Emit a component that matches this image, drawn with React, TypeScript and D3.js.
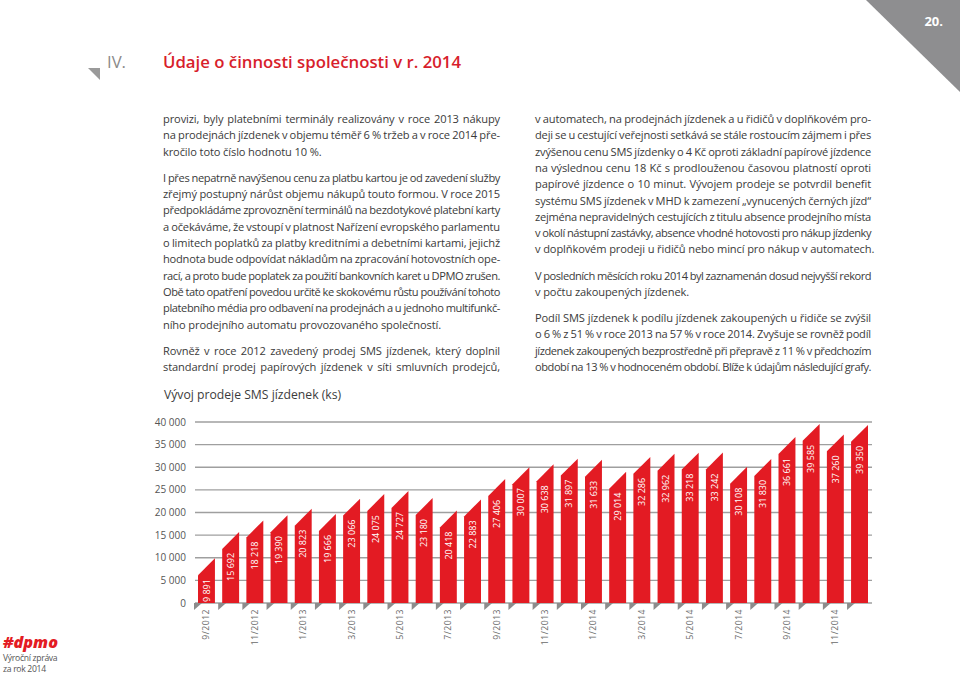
import React, { useEffect, useRef } from "react";
import * as d3 from "d3";

const months = [
  "9/2012", "10/2012", "11/2012", "12/2012",
  "1/2013", "2/2013", "3/2013", "4/2013", "5/2013", "6/2013", "7/2013", "8/2013", "9/2013", "10/2013", "11/2013", "12/2013",
  "1/2014", "2/2014", "3/2014", "4/2014", "5/2014", "6/2014", "7/2014", "8/2014", "9/2014", "10/2014", "11/2014", "12/2014",
];
const sales = [
  9891, 15692, 18218, 19390, 20823, 19666, 23066, 24075, 24727, 23180, 20418, 22883, 27406, 30007,
  30638, 31897, 31633, 29014, 32286, 32962, 33218, 33242, 30108, 31830, 36661, 39585, 37260, 39350,
];
const yTicks = [0, 5000, 10000, 15000, 20000, 25000, 30000, 35000, 40000];
const chartTitle = "Vývoj prodeje SMS jízdenek (ks)";
const sectionNumber = "IV.";
const sectionTitle = "Údaje o činnosti společnosti v r. 2014";
const pageNumber = "20.";
const footerLines = ["Výroční zpráva", "za rok 2014"];

const leftParagraphs = [
  [
    "provizi, byly platebními terminály realizovány v roce 2013 nákupy",
    "na prodejnách jízdenek v objemu téměř 6 % tržeb a v roce 2014 pře-",
    "kročilo toto číslo hodnotu 10 %.",
  ],
  [
    "I přes nepatrně navýšenou cenu za platbu kartou je od zavedení služby",
    "zřejmý postupný nárůst objemu nákupů touto formou. V roce 2015",
    "předpokládáme zprovoznění terminálů na bezdotykové platební karty",
    "a očekáváme, že vstoupí v platnost Nařízení evropského parlamentu",
    "o limitech poplatků za platby kreditními a debetními kartami, jejichž",
    "hodnota bude odpovídat nákladům na zpracování hotovostních ope-",
    "rací, a proto bude poplatek za použití bankovních karet u DPMO zrušen.",
    "Obě tato opatření povedou určitě ke skokovému růstu používání tohoto",
    "platebního média pro odbavení na prodejnách a u jednoho multifunkč-",
    "ního prodejního automatu provozovaného společností.",
  ],
  [
    "Rovněž v roce 2012 zavedený prodej SMS jízdenek, který doplnil",
    "standardní prodej papírových jízdenek v síti smluvních prodejců,",
  ],
];
const leftJustifyLast = [false, false, true];

const rightParagraphs = [
  [
    "v automatech, na prodejnách jízdenek a u řidičů v doplňkovém pro-",
    "deji se u cestující veřejnosti setkává se stále rostoucím zájmem i přes",
    "zvýšenou cenu SMS jízdenky o 4 Kč oproti základní papírové jízdence",
    "na výslednou cenu 18 Kč s prodlouženou časovou platností oproti",
    "papírové jízdence o 10 minut. Vývojem prodeje se potvrdil benefit",
    "systému SMS jízdenek v MHD k zamezení „vynucených černých jízd“",
    "zejména nepravidelných cestujících z titulu absence prodejního místa",
    "v okolí nástupní zastávky, absence vhodné hotovosti pro nákup jízdenky",
    "v doplňkovém prodeji u řidičů nebo mincí pro nákup v automatech.",
  ],
  [
    "V posledních měsících roku 2014 byl zaznamenán dosud nejvyšší rekord",
    "v počtu zakoupených jízdenek.",
  ],
  [
    "Podíl SMS jízdenek k podílu jízdenek zakoupených u řidiče se zvýšil",
    "o 6 % z 51 % v roce 2013 na 57 % v roce 2014. Zvyšuje se rovněž podíl",
    "jízdenek zakoupených bezprostředně při přepravě z 11 % v předchozím",
    "období na 13 % v hodnoceném období. Blíže k údajům následující grafy.",
  ],
];
const rightJustifyLast = [false, false, true];

const RED = "#e31b23";
const TEXT = "#3a3a3a";
const FONT = "'Open Sans', sans-serif";
const BODY_FS = 11.1;
const BODY_LS = -0.12;
const LINE_H = 16.3;
const PARA_GAP = 9.9;

const fmt = d3.formatLocale({ decimal: ",", thousands: " ", grouping: [3], currency: ["", ""] }).format(",d");

export default function App() {
  const ref = useRef<SVGSVGElement>(null);

  useEffect(() => {
    const svg = d3.select(ref.current!);
    svg.selectAll("*").remove();

    // ---------- header ----------
    svg.append("path").attr("d", "M866,0 L960,0 L960,92 Z").attr("fill", "#8e8e90");
    svg.append("text").attr("x", 943).attr("y", 26).attr("text-anchor", "end")
      .attr("font-family", FONT).attr("font-weight", 700).attr("font-size", 13).attr("fill", "#fff").text(pageNumber);
    svg.append("path").attr("d", "M88,68 L100,68 L100,80 Z").attr("fill", "#9a9a9a");
    svg.append("text").attr("x", 107).attr("y", 68).attr("font-family", FONT).attr("font-size", 16)
      .attr("fill", "#8a8a8a").attr("textLength", 19).attr("lengthAdjust", "spacingAndGlyphs").text(sectionNumber);
    svg.append("text").attr("x", 163).attr("y", 68).attr("font-family", FONT).attr("font-weight", 600)
      .attr("font-size", 17).attr("fill", "#d81e2c").attr("textLength", 298).attr("lengthAdjust", "spacingAndGlyphs")
      .text(sectionTitle);

    // ---------- body text ----------
    const measurer = svg.append("text").attr("font-family", FONT).attr("font-size", BODY_FS)
      .attr("x", -1000).attr("y", -1000);
    const measure = (s: string, ls: number) => {
      measurer.attr("letter-spacing", ls).text(s);
      return (measurer.node() as SVGTextElement).getComputedTextLength();
    };

    const drawColumn = (paras: string[][], justifyLast: boolean[], x: number, y0: number, width: number) => {
      let y = y0;
      paras.forEach((lines, pi) => {
        lines.forEach((line, li) => {
          const t = svg.append("text").attr("y", y).attr("font-family", FONT).attr("font-size", BODY_FS)
            .attr("fill", TEXT);
          const isLast = li === lines.length - 1 && !justifyLast[pi];
          if (isLast) {
            t.attr("x", x).attr("letter-spacing", BODY_LS).text(line);
          } else {
            const words = line.split(" ");
            let ls = BODY_LS;
            let widths = words.map((w) => measure(w, ls));
            let sum = d3.sum(widths);
            let gap = (width - sum) / (words.length - 1);
            if (gap < 2.2) {
              const chars = words.join("").length;
              ls = ls - (2.2 * (words.length - 1) + sum - width) / chars;
              widths = words.map((w) => measure(w, ls));
              sum = d3.sum(widths);
              gap = (width - sum) / (words.length - 1);
            }
            t.attr("letter-spacing", ls);
            let cx = x;
            words.forEach((w, wi) => {
              t.append("tspan").attr("x", cx).attr("y", y).text(wi < words.length - 1 ? w + " " : w);
              cx += widths[wi] + gap;
            });
          }
          y += LINE_H;
        });
        y += PARA_GAP;
      });
    };
    drawColumn(leftParagraphs, leftJustifyLast, 163, 123, 337);
    drawColumn(rightParagraphs, rightJustifyLast, 535, 123, 336);
    measurer.remove();

    // ---------- chart ----------
    svg.append("text").attr("x", 164).attr("y", 399).attr("font-family", FONT).attr("font-size", 12.2)
      .attr("fill", "#3c3c3c").text(chartTitle);

    const x = d3.scaleBand<string>().domain(months).range([198, 868]).paddingInner(0.3).paddingOuter(0);
    const y = d3.scaleLinear().domain([0, 40000]).range([603, 422]);
    const bw = x.bandwidth();
    const base = y(0);

    const grid = svg.append("g");
    grid.selectAll("line").data(yTicks).join("line")
      .attr("x1", 195).attr("x2", 872)
      .attr("y1", (d) => y(d)).attr("y2", (d) => y(d))
      .attr("stroke", "#9f9f9f").attr("stroke-width", 1.3);
    grid.selectAll("text").data(yTicks).join("text")
      .attr("x", 186).attr("y", (d) => y(d) + 3.5).attr("text-anchor", "end")
      .attr("font-family", FONT).attr("font-size", 10).attr("fill", "#555")
      .text((d) => fmt(d));

    const data = months.map((m, i) => ({ m, v: sales[i] }));

    svg.append("g").selectAll("path").data(data).join("path")
      .attr("d", (d) => {
        const L = x(d.m)!;
        return `M${L - 4},${base} L${L + 4},${base} L${L - 4},${base + 7} Z`;
      })
      .attr("fill", "#8c8c8c");

    svg.append("g").selectAll("path").data(data).join("path")
      .attr("d", (d) => {
        const L = x(d.m)!;
        const R = L + bw;
        const top = y(d.v);
        return `M${L},${base} L${L},${top + bw} L${R},${top} L${R},${base} Z`;
      })
      .attr("fill", RED);

    svg.append("g").selectAll("text").data(data).join("text")
      .attr("transform", (d) => `translate(${x(d.m)! + bw / 2 + 3.2},${y(d.v) + bw + 4}) rotate(-90)`)
      .attr("text-anchor", "end").attr("font-family", FONT).attr("font-size", 9).attr("fill", "#fff")
      .text((d) => fmt(d.v));

    svg.append("g").selectAll("text").data(months.filter((_, i) => i % 2 === 0)).join("text")
      .attr("transform", (d) => `translate(${x(d)! + bw / 2 + 3},${609}) rotate(-90)`)
      .attr("text-anchor", "end").attr("font-family", FONT).attr("font-size", 8.6)
      .attr("letter-spacing", 0.5).attr("fill", "#6a6a6a")
      .text((d) => d);

    // ---------- footer ----------
    svg.append("text").attr("x", 3).attr("y", 648).attr("font-family", FONT).attr("font-weight", 800)
      .attr("font-style", "italic").attr("font-size", 15).attr("fill", RED)
      .attr("textLength", 55).attr("lengthAdjust", "spacingAndGlyphs").text("#dpmo");
    footerLines.forEach((s, i) => {
      svg.append("text").attr("x", 3).attr("y", 661 + i * 11).attr("font-family", FONT).attr("font-size", 8.6)
        .attr("fill", "#555").attr("letter-spacing", -0.3).text(s);
    });
  }, []);

  return (
    <svg
      ref={ref}
      width={960}
      height={691}
      style={{ position: "absolute", left: 0, top: 0, background: "#fff", display: "block" }}
    />
  );
}
